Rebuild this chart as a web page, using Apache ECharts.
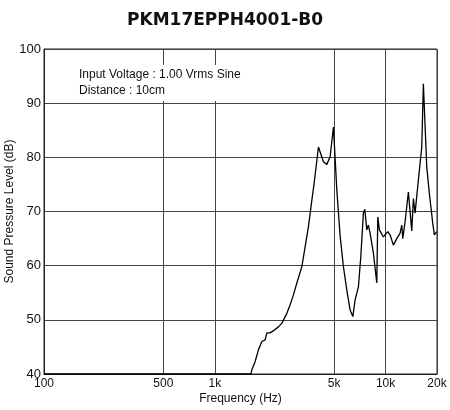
<!DOCTYPE html>
<html>
<head>
<meta charset="utf-8">
<script src="https://cdn.jsdelivr.net/npm/echarts@6/dist/echarts.min.js"></script>
<style>html,body{margin:0;padding:0;background:#fff}#c{width:450px;height:410px}</style>
</head>
<body>
<div id="c"></div>
<script>
const titleText = 'PKM17EPPH4001-B0';
const noteLines = ['Input Voltage : 1.00 Vrms Sine', 'Distance : 10cm'];
const xTickValues = [100, 500, 1000, 5000, 10000, 20000];
const xTickLabels = ['100', '500', '1k', '5k', '10k', '20k'];
const freqHz = [100, 1626, 1649, 1723, 1802, 1887, 1972, 2018, 2110, 2206, 2359, 2470, 2642, 2762, 2887, 3023, 3233, 3381, 3535, 3701, 3815, 4045, 4326, 4529, 4735, 4951, 5183, 5418, 5665, 5929, 6200, 6430, 6632, 6933, 7160, 7415, 7556, 7762, 7931, 8114, 8484, 8882, 9003, 9199, 9708, 10302, 10625, 11108, 11631, 12160, 12439, 12607, 13004, 13597, 14233, 14545, 14880, 15556, 16287, 16643, 17424, 18045, 18892, 19306, 19940];
const splDb = [40, 40, 40.8, 42.3, 44.5, 46.0, 46.3, 47.6, 47.6, 48.0, 48.7, 49.4, 51.2, 52.8, 54.6, 56.8, 59.8, 63.5, 67.2, 72.1, 75.2, 81.9, 79.2, 78.7, 80.1, 85.6, 73.9, 65.5, 59.8, 55.5, 51.8, 50.6, 53.7, 56.1, 61.7, 69.7, 70.4, 66.6, 67.5, 66.0, 62.3, 56.8, 69.0, 66.6, 65.3, 66.3, 65.7, 63.8, 65.0, 66.0, 67.5, 65.0, 68.1, 73.6, 66.4, 72.4, 69.7, 75.8, 81.9, 93.6, 78.2, 73.3, 67.8, 65.7, 66.3];

const font = '"Liberation Sans", Arial, Helvetica, sans-serif';
const chart = echarts.init(document.getElementById('c'), null, {renderer: 'canvas'});
const labelMap = {};
xTickValues.forEach((v, i) => { labelMap[v] = xTickLabels[i]; });

chart.setOption({
  animation: false,
  backgroundColor: '#fff',
  title: {
    text: titleText, left: 122, top: 7,
    textStyle: {fontFamily: '"DejaVu Sans", sans-serif', fontSize: 17, fontWeight: 'bold', color: '#111'}
  },
  grid: {left: 44, right: 13, top: 49, bottom: 36, outerBoundsMode: 'none', containLabel: false,
    show: true, borderColor: '#222', borderWidth: 1, backgroundColor: 'transparent'},
  xAxis: {
    type: 'log', logBase: 10, min: 100, max: 20000,
    name: 'Frequency (Hz)', nameLocation: 'middle', nameGap: 19, nameMoveOverlap: false,
    nameTextStyle: {fontFamily: font, fontSize: 12, color: '#111'},
    axisLine: {show: true, lineStyle: {color: '#222', width: 1}},
    axisTick: {show: false, customValues: xTickValues},
    axisLabel: {customValues: xTickValues, margin: 4, fontFamily: font, fontSize: 12, color: '#111',
      formatter: v => labelMap[Math.round(v)] || ''},
    splitLine: {show: true, lineStyle: {color: '#444', width: 1}},
    minorSplitLine: {show: false}
  },
  yAxis: {
    type: 'value', min: 40, max: 100, interval: 10,
    name: 'Sound Pressure Level (dB)', nameLocation: 'middle', nameGap: 28, nameMoveOverlap: false,
    nameTextStyle: {fontFamily: font, fontSize: 12, color: '#111'},
    axisLine: {show: true, lineStyle: {color: '#222', width: 1}},
    axisTick: {show: false},
    axisLabel: {margin: 3, fontFamily: font, fontSize: 13, color: '#111'},
    splitLine: {show: true, lineStyle: {color: '#444', width: 1}}
  },
  graphic: [{
    type: 'text', left: 76, top: 65, z: 10,
    style: {
      text: noteLines.join('\n'), fontFamily: font, fontSize: 12, fill: '#111',
      lineHeight: 16, backgroundColor: '#fff', padding: [2, 3, 2, 3]
    }
  }],
  series: [{
    type: 'line', data: freqHz.map((f, i) => [f, splDb[i]]),
    showSymbol: false, symbol: 'none', smooth: false,
    lineStyle: {color: '#000', width: 1.3}, z: 5
  }]
});
</script>
</body>
</html>
